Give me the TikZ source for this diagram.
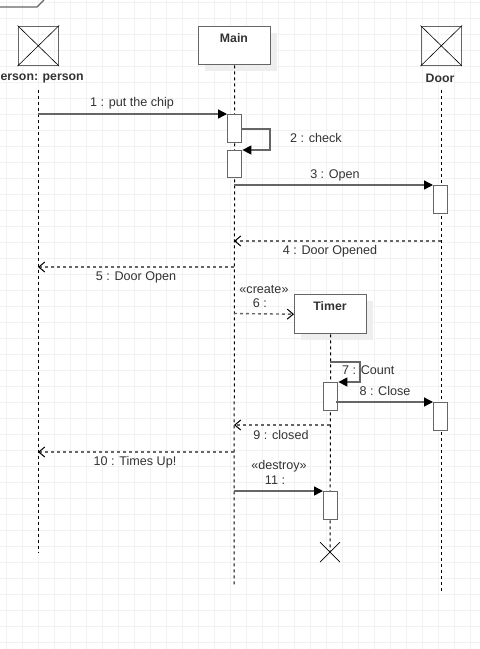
\documentclass[tikz,border=0pt]{standalone}
\usepackage{fontspec}
\setmainfont{Liberation Sans}
\usetikzlibrary{arrows.meta}
\definecolor{tc}{HTML}{333333}
\definecolor{bc}{HTML}{666666}
\definecolor{gridc}{HTML}{F2F2F2}
\definecolor{shc}{HTML}{EEEEEE}
\begin{document}
\begin{tikzpicture}[x=1pt,y=-1pt,
  txt/.style={font=\fontsize{12.6}{14}\selectfont, text=tc, inner sep=0pt},
  lname/.style={font=\bfseries\fontsize{12.3}{14}\selectfont, text=tc, inner sep=0pt},
  life/.style={draw=black, dash pattern=on 3pt off 3pt, line width=1pt},
  act/.style={draw=bc, fill=white, line width=1.4pt, minimum width=14pt, minimum height=28pt, anchor=north west, inner sep=0pt},
  objbox/.style={draw=bc, fill=white, line width=1.4pt, minimum width=72pt, minimum height=38pt, anchor=north west, inner sep=0pt},
  actor/.style={draw=bc, line width=1.6pt, minimum width=40pt, minimum height=39pt, anchor=north west, inner sep=0pt},
  msg/.style={draw=bc, line width=1.4pt, -{Triangle[length=9pt,width=9pt,fill=black,color=black]}},
  ret/.style={draw=bc, line width=1.4pt, dash pattern=on 3pt off 3pt, -{Straight Barb[length=6pt,width=10pt,color=black,line width=1pt]}},
]
\useasboundingbox (0,0) rectangle (480,649);
\clip (0,0) rectangle (480,649);
\fill[white] (0,0) rectangle (480,649);
% grid
\foreach \gx in {6,22,...,486} \draw[gridc, line width=1pt] (\gx,0) -- (\gx,649);
\foreach \gy in {2,18,...,650} \draw[gridc, line width=1pt] (0,\gy) -- (480,\gy);
% frame corner
\draw[bc, line width=1.4pt] (0,7) -- (37,7) -- (44,0);

% person
\node[actor] (pbox) at (17.5,25.5) {};
\draw[black, line width=0.6pt] (pbox.north west) -- (pbox.south east) (pbox.south west) -- (pbox.north east);
\node[lname] (plbl) at (38,78) {Person: person};
\coordinate (ptop) at (38,90);
\coordinate (pbot) at (38,553);
\draw[life] (ptop) -- (pbot);

% door
\node[actor] (dbox) at (420.5,25.5) {};
\draw[black, line width=0.6pt] (dbox.north west) -- (dbox.south east) (dbox.south west) -- (dbox.north east);
\node[lname] (dlbl) at (440,78) {Door};
\coordinate (dtop) at (441,90);
\coordinate (dbot) at (441,592);
\draw[life] (dtop) -- (dbot);

% main
\fill[shc] (205,33) rectangle (277,71);
\node[objbox] (main) at (198,26) {};
\node[lname] (mlbl) at (234,38) {Main};
\coordinate (mbot) at (234,585);
\draw[life] (main.south) -- (mbot);

% timer
\fill[shc] (301,301) rectangle (373,340);
\node[objbox, minimum height=39pt] (timer) at (294,294) {};
\node[lname] (tlbl) at (330,306) {Timer};
\coordinate (tx) at (330,552);
\draw[life] (timer.south) -- (tx);
\draw[black, line width=0.7pt] ([shift={(-10,-10)}]tx) -- ([shift={(10,10)}]tx) ([shift={(-10,10)}]tx) -- ([shift={(10,-10)}]tx);

% activations
\node[act] (a1) at (227,114) {};
\node[act, minimum height=27pt] (a2) at (227,150) {};
\node[act] (d1) at (433,185) {};
\node[act] (t1) at (323,382) {};
\node[act] (d2) at (433,402) {};
\node[act] (t2) at (323,491) {};

% 1
\draw[msg] (ptop |- a1.north) -- (a1.north west);
\node[txt] (l1) at (132,103) {1 : put the chip};
% 2
\coordinate (s2) at (241,129);
\draw[msg] (s2) -- ++(29,0) |- (a2.north east);
\node[txt, anchor=west] (l2) at (290,138) {2 : check};
% 3
\coordinate (s3) at (234,185);
\draw[msg] (s3) -- (d1.north west);
\node[txt] (l3) at (335,175) {3 : Open};
% 4
\coordinate (s4) at (441,241);
\coordinate (e4) at (234,241);
\draw[ret] (s4) -- (e4);
\node[txt] (l4) at (330,251) {4 : Door Opened};
% 5
\coordinate (s5) at (234,267);
\draw[ret] (s5) -- (ptop |- s5);
\node[txt] (l5) at (136,277) {5 : Door Open};
% 6
\coordinate (s6) at (234,313.5);
\draw[ret] (s6) -- (timer.west);
\node[txt] (l6a) at (264,289) {«create»};
\node[txt] (l6b) at (260,303) {6 :};
% 7
\coordinate (s7) at (330,362);
\draw[msg] (s7) -- ++(30,0) |- (t1.north east);
\node[txt, anchor=west] (l7) at (342,370) {7 : Count};
% 8
\coordinate (s8) at (336,402);
\draw[msg] (s8) -- (d2.north west);
\node[txt] (l8) at (385,391) {8 : Close};
% 9
\coordinate (s9) at (330,425);
\draw[ret] (s9) -- (234,425);
\node[txt] (l9) at (281,435) {9 : closed};
% 10
\coordinate (s10) at (234,452);
\draw[ret] (s10) -- (ptop |- s10);
\node[txt] (l10) at (135,462) {10 : Times Up!};
% 11
\coordinate (s11) at (234,491);
\draw[msg] (s11) -- (t2.north west);
\node[txt] (l11a) at (279,466) {«destroy»};
\node[txt] (l11b) at (275,480) {11 :};
\end{tikzpicture}
\end{document}
